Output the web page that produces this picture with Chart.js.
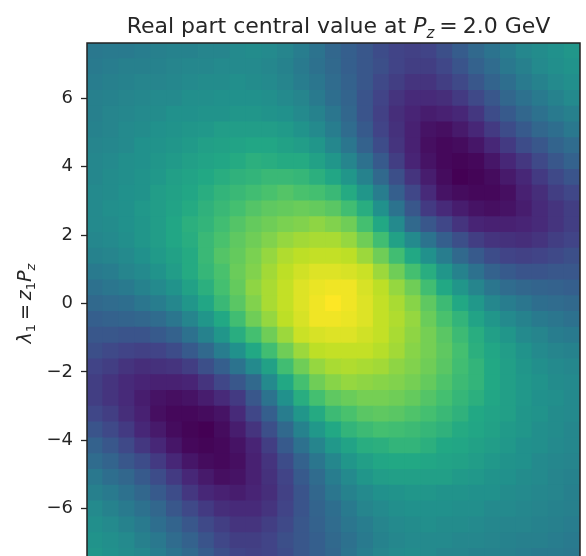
<!DOCTYPE html>
<html>
<head>
<meta charset="utf-8">
<script src="https://cdn.jsdelivr.net/npm/chart.js"></script>
<style>
  html, body { margin: 0; padding: 0; overflow: hidden; background: #fff; }
</style>
</head>
<body>
<canvas id="chart-1" width="586" height="583"></canvas>
<script>
// row centres (lambda_1, top to bottom) and column centres (lambda_2, left to right)
const lambda1 = [7.39, 6.93, 6.47, 6.00, 5.54, 5.08, 4.62, 4.16, 3.69, 3.23, 2.77, 2.31, 1.85, 1.39, 0.92, 0.46, 0,
  -0.46, -0.92, -1.39, -1.85, -2.31, -2.77, -3.23, -3.69, -4.16, -4.62, -5.08, -5.54, -6.00, -6.47, -6.93, -7.39];
const lambda2 = [-6.93, -6.47, -6.00, -5.54, -5.08, -4.62, -4.16, -3.69, -3.23, -2.77, -2.31, -1.85, -1.39, -0.92, -0.46, 0,
  0.46, 0.92, 1.39, 1.85, 2.31, 2.77, 3.23, 3.69, 4.16, 4.62, 5.08, 5.54, 6.00, 6.47, 6.93];
const yTicks = [-6, -4, -2, 0, 2, 4, 6];

// colour value of each cell, 0 (darkest) .. 100 (brightest)
const values = [
  [40,41,41,42,43,44,44,45,45,47,48,47,45,42,38,33,30,27,23,20,19,20,24,29,34,38,42,46,48,50,52],
  [41,42,43,43,44,45,46,46,47,47,47,46,44,41,37,34,30,27,24,20,18,18,21,26,31,35,40,43,47,49,51],
  [42,43,44,45,45,46,47,48,48,49,48,47,45,42,39,35,31,27,22,18,15,15,18,22,27,32,36,41,44,47,49],
  [43,44,45,46,47,47,49,49,50,50,50,49,47,45,41,36,32,26,20,15,12,12,13,17,22,27,33,37,41,44,47],
  [43,45,46,47,48,50,50,51,51,52,52,51,50,47,44,39,33,26,19,13,10,8,9,11,16,23,28,33,37,41,43],
  [44,45,47,48,50,51,52,53,55,55,55,55,54,51,47,42,35,28,20,14,9,5,4,7,11,17,23,28,33,36,40],
  [45,46,47,50,51,52,54,56,57,58,59,59,57,55,52,46,39,31,23,15,9,4,2,3,6,11,17,23,27,32,35],
  [46,47,49,50,52,54,56,58,59,61,63,62,61,61,57,52,45,37,28,18,10,5,2,1,2,6,11,16,22,27,31],
  [46,48,49,51,53,56,58,60,62,64,65,67,67,66,63,59,52,44,34,24,15,8,3,0,1,3,7,11,17,22,26],
  [47,48,50,51,55,57,59,62,65,67,69,71,73,71,70,67,61,52,42,30,21,12,5,3,2,2,4,9,13,18,21],
  [47,49,50,53,55,58,61,64,67,70,73,75,76,77,76,74,69,62,50,38,27,17,12,8,5,4,5,8,12,15,18],
  [47,48,50,52,55,59,63,65,69,73,76,78,80,81,83,81,78,70,60,47,34,27,21,15,10,9,9,10,12,15,18],
  [46,47,49,52,55,59,62,67,71,75,78,81,84,86,87,87,84,78,69,57,47,38,30,24,18,15,14,13,15,18,20],
  [44,45,47,50,54,57,61,67,73,76,80,84,88,90,91,91,90,85,78,69,60,50,42,34,28,23,20,19,20,22,24],
  [41,42,45,47,51,55,61,66,71,77,81,86,90,93,95,95,94,92,85,78,70,62,52,44,37,31,28,26,26,27,27],
  [37,39,41,44,47,51,57,63,70,76,83,87,91,95,97,98,98,94,90,84,78,69,60,52,45,39,35,33,32,31,30],
  [34,35,36,39,42,46,52,59,67,74,81,87,91,95,98,100,98,95,91,87,82,75,68,60,53,46,42,39,36,35,34],
  [30,31,32,33,35,39,45,52,60,69,78,84,90,94,98,98,97,95,91,88,84,77,71,65,58,52,47,44,41,39,37],
  [27,27,26,26,28,31,37,44,52,62,70,78,85,92,94,95,95,93,91,87,83,79,74,68,62,56,52,47,45,42,41],
  [24,22,20,19,20,23,28,34,42,50,60,69,78,85,90,91,91,91,89,86,82,79,75,70,63,59,55,51,47,45,44],
  [20,18,15,13,14,15,18,24,30,38,47,57,69,78,84,87,88,87,86,83,81,78,74,69,65,60,56,52,49,47,46],
  [18,15,12,10,9,9,10,15,21,27,34,47,60,70,78,82,84,83,82,81,79,76,72,68,65,60,56,53,51,48,47],
  [18,15,12,8,5,4,5,8,12,17,27,38,50,62,70,75,77,79,79,78,76,73,70,66,63,59,56,53,50,49,47],
  [21,18,13,9,4,2,2,3,5,12,21,30,42,52,61,68,71,74,75,74,72,70,67,64,60,58,56,52,51,48,47],
  [26,22,17,11,7,3,1,0,3,8,15,24,34,44,53,60,65,68,70,69,68,66,64,61,59,57,54,52,49,48,46],
  [31,27,22,16,11,6,2,1,2,5,10,18,28,37,45,53,58,62,63,65,65,63,60,59,57,55,53,50,49,47,46],
  [35,32,27,23,17,11,6,3,2,4,9,15,23,31,39,46,52,56,59,60,60,59,58,57,55,53,51,50,47,46,45],
  [40,36,33,28,23,17,11,7,4,5,9,14,20,28,35,42,47,52,55,56,56,56,56,54,53,51,50,48,47,45,44],
  [43,41,37,33,28,23,16,11,9,8,10,13,19,26,33,39,44,47,50,51,52,52,51,51,50,50,48,47,46,45,43],
  [47,44,41,37,33,27,22,17,13,12,12,15,20,26,32,36,41,45,47,49,50,50,50,49,49,47,47,46,45,44,43],
  [49,47,44,41,36,32,27,22,18,15,15,18,22,27,31,35,39,42,45,47,48,49,48,48,47,46,45,45,44,43,42],
  [51,49,47,43,40,35,31,26,21,18,18,20,24,27,30,34,37,41,44,46,47,47,47,46,46,45,44,43,43,42,41],
  [52,50,48,46,42,38,34,29,24,20,19,20,23,27,30,33,38,42,45,47,48,47,45,45,44,44,43,42,41,41,40],
];

const viridis = [
  [68, 1, 84], [72, 36, 117], [65, 68, 135], [53, 95, 141], [42, 120, 142], [33, 145, 140],
  [34, 168, 132], [68, 191, 112], [122, 209, 81], [189, 223, 38], [253, 231, 37],
];

function colour(v) {
  const t = Math.max(0, Math.min(100, v)) / 10;
  const k = Math.min(9, Math.floor(t));
  const f = t - k;
  const a = viridis[k], b = viridis[k + 1];
  const c = a.map((x, n) => Math.round(x + (b[n] - x) * f));
  return "rgb(" + c.join(",") + ")";
}

function cellRadius(chart) {
  const sx = chart.scales.x, sy = chart.scales.y;
  if (!sx || !sy) return 8;
  const w = Math.abs(sx.getPixelForValue(lambda2[1]) - sx.getPixelForValue(lambda2[0]));
  const h = Math.abs(sy.getPixelForValue(lambda1[0]) - sy.getPixelForValue(lambda1[1]));
  return (Math.max(w, h) + 1) / Math.SQRT2;
}

const cells = [];
lambda1.forEach((y, i) => {
  lambda2.forEach((x, j) => {
    cells.push({ x: x, y: y, v: values[i][j] });
  });
});

function drawRich(ctx, parts, x, y) {
  let total = 0;
  parts.forEach((p) => {
    ctx.font = p.font;
    total += (p.gap || 0) + ctx.measureText(p.text).width;
  });
  let cx = x - total / 2;
  parts.forEach((p) => {
    ctx.font = p.font;
    cx += p.gap || 0;
    ctx.fillText(p.text, cx, y + (p.dy || 0));
    cx += ctx.measureText(p.text).width;
  });
}

const titleParts = [
  { text: "Real part central value at ", font: '22px "DejaVu Sans"' },
  { text: "P", font: 'italic 22px "DejaVu Sans"' },
  { text: "z", font: 'italic 15px "DejaVu Sans"', dy: 5 },
  { text: "=", font: '22px "DejaVu Sans"', gap: 5 },
  { text: "2.0 GeV", font: '22px "DejaVu Sans"', gap: 5 },
];
const yLabelParts = [
  { text: "\u03bb", font: 'italic 19px "DejaVu Sans"' },
  { text: "1", font: '13px "DejaVu Sans"', dy: 4 },
  { text: "=", font: '19px "DejaVu Sans"', gap: 4 },
  { text: "z", font: 'italic 19px "DejaVu Sans"', gap: 4 },
  { text: "1", font: '13px "DejaVu Sans"', dy: 4 },
  { text: "P", font: 'italic 19px "DejaVu Sans"' },
  { text: "z", font: 'italic 13px "DejaVu Sans"', dy: 4 },
];

const decorations = {
  id: "decorations",
  afterDraw(chart) {
    const ctx = chart.ctx;
    const a = chart.chartArea;
    ctx.save();
    ctx.strokeStyle = "#222";
    ctx.lineWidth = 1.5;
    ctx.strokeRect(a.left, a.top, a.right - a.left, a.bottom - a.top);
    ctx.fillStyle = "#262626";
    ctx.textAlign = "left";
    ctx.textBaseline = "alphabetic";
    drawRich(ctx, titleParts, 338.5, 33);
    ctx.translate(31, (a.top + a.bottom) / 2);
    ctx.rotate(-Math.PI / 2);
    drawRich(ctx, yLabelParts, 0, 0);
    ctx.restore();
  },
};

const ctx1 = document.getElementById("chart-1");

const mychart = new Chart(ctx1, {
  type: "scatter",
  data: {
    datasets: [
      {
        data: cells,
        pointStyle: "rect",
        pointRadius: (c) => cellRadius(c.chart),
        pointHoverRadius: (c) => cellRadius(c.chart),
        borderWidth: 0,
        backgroundColor: (c) => (c.raw ? colour(c.raw.v) : "transparent"),
        clip: 0,
      },
    ],
  },
  options: {
    responsive: false,
    animation: false,
    events: [],
    layout: { padding: { top: 43, right: 6, bottom: 0, left: 0 } },
    plugins: {
      legend: { display: false },
      tooltip: { enabled: false },
      title: { display: false },
    },
    scales: {
      x: { type: "linear", min: -7.16, max: 7.16, display: false },
      y: {
        type: "linear",
        min: -7.62,
        max: 7.62,
        afterBuildTicks: (axis) => {
          axis.ticks = yTicks.map((v) => ({ value: v }));
        },
        afterFit: (axis) => {
          axis.width = 87;
        },
        ticks: {
          callback: (v) => (v < 0 ? "\u2212" + Math.abs(v) : String(v)),
          font: { family: "DejaVu Sans", size: 18 },
          color: "#262626",
          padding: 8,
        },
        grid: {
          display: true,
          drawOnChartArea: false,
          drawTicks: true,
          tickLength: 6,
          tickWidth: 1.3,
          tickColor: "#262626",
        },
        border: { display: false },
      },
    },
  },
  plugins: [decorations],
});
</script>
</body>
</html>
